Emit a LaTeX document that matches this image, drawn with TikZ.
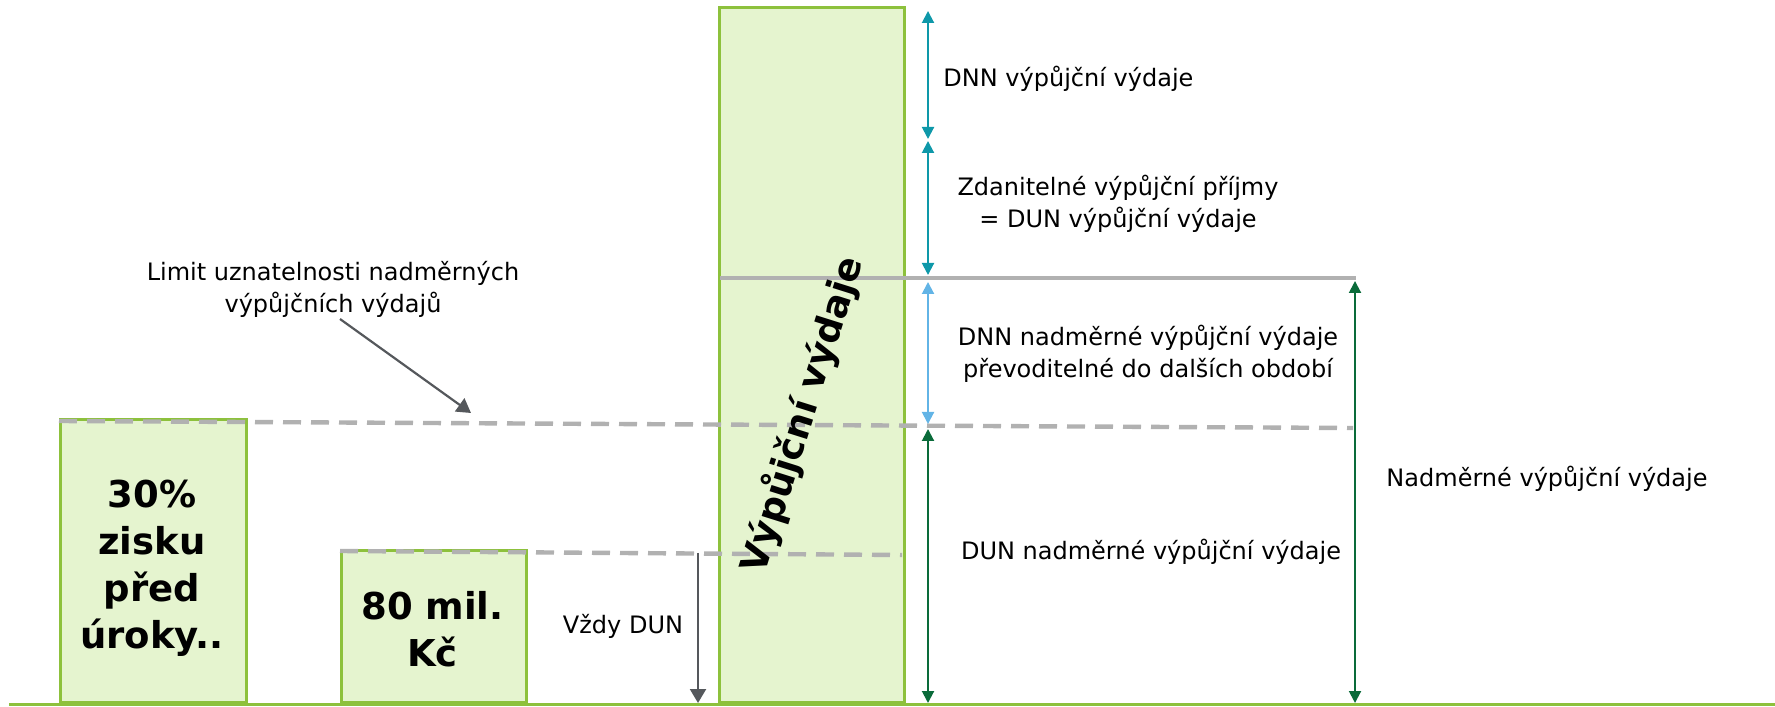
\documentclass[tikz,border=0pt]{standalone}
\usepackage{fontspec}
\setmainfont{DejaVu Sans}
\usetikzlibrary{arrows.meta}

\definecolor{barfill}{HTML}{E5F4CF}
\definecolor{bargreen}{HTML}{8DC13C}
\definecolor{limgray}{HTML}{B1B1B1}
\definecolor{tealarr}{HTML}{0E98A9}
\definecolor{bluearr}{HTML}{62B4E6}
\definecolor{darkarr}{HTML}{0A6B3A}
\definecolor{ptrgray}{HTML}{55585C}

\begin{document}
\begin{tikzpicture}[x=0.5pt,y=0.5pt,
        bar/.style={draw=bargreen,fill=barfill,line width=1.5pt,minimum width=92.5pt,anchor=south west,inner sep=0pt},
        bartext/.style={inner sep=0pt,align=center,font=\fontsize{18.5}{23.5}\selectfont\bfseries},
        lbl/.style={inner sep=0pt,align=center,font=\fontsize{12}{16}\selectfont},
        dim/.style={line width=1pt,{Triangle[width=6pt,length=6pt]}-{Triangle[width=6pt,length=6pt]}},
        ptr/.style={draw=ptrgray,line width=1.1pt,-{Triangle[width=8pt,length=7pt]}},
        limit/.style={draw=limgray,line width=2.2pt,dash pattern=on 9pt off 5pt}]

    \useasboundingbox (0,0) rectangle (1775,706);

    \node[bar,minimum width=93pt,minimum height=141.5pt] (zisk) at (59,2) {};
    \node[bar,minimum height=76pt] (mil) at (340,2) {};
    \node[bar,minimum height=347.5pt] (vyd) at (718,2) {};
    \node[bartext] (zisktxt) at (152,137.5) {30\%\\zisku\\před\\úroky..};
    \node[bartext] (miltxt) at (432.5,76.5) {80 mil.\\Kč};

    \draw[bargreen,line width=1.5pt] (9,2) coordinate (g0) -- (1775,2) coordinate (g1);

    \coordinate (l1a) at (59,285);
    \coordinate (l1b) at (1353,278);
    \coordinate (l2a) at (340,155);
    \coordinate (l2b) at (902,151);
    \coordinate (vz) at (698,153);
    \coordinate (vz0) at (698,3);
    \draw[limit] (l1a) -- (l1b);
    \draw[limit] (l2a) -- (l2b);
    \draw[limgray,line width=2pt] (720,428) coordinate (h0) -- (1356,428) coordinate (h1);

    \node[rotate=72.5,font=\fontsize{18.5}{20}\selectfont\bfseries] (vv) at (802,291) {Výpůjční výdaje};

    \coordinate (a0) at (928,695);
    \coordinate (a1) at (928,567);
    \coordinate (a2) at (928,565);
    \coordinate (a3) at (928,431);
    \coordinate (a4) at (928,424);
    \coordinate (a5) at (928,282);
    \coordinate (a6) at (928,277);
    \coordinate (a7) at (928,3);
    \coordinate (n0) at (1355,425);
    \coordinate (n1) at (1355,3);

    \draw[dim,tealarr] (a0) -- (a1);
    \draw[dim,tealarr] (a2) -- (a3);
    \draw[dim,bluearr] (a4) -- (a5);
    \draw[dim,darkarr] (a6) -- (a7);
    \draw[dim,darkarr] (n0) -- (n1);
    \draw[ptr] (vz) -- (vz0);

    \node[lbl,anchor=west] (dnn) at (943,627) {DNN výpůjční výdaje};
    \node[lbl] (zdan) at (1118,502) {Zdanitelné výpůjční příjmy\\= DUN výpůjční výdaje};
    \node[lbl] (dnnn) at (1148,352) {DNN nadměrné výpůjční výdaje\\převoditelné do dalších období};
    \node[lbl] (dunn) at (1151,154) {DUN nadměrné výpůjční výdaje};
    \node[lbl] (nadm) at (1547,227) {Nadměrné výpůjční výdaje};
    \node[lbl] (vzdy) at (623,80) {Vždy DUN};
    \node[lbl] (lim) at (333,417) {Limit uznatelnosti nadměrných\\výpůjčních výdajů};

    \coordinate (p0) at (340,387);
    \coordinate (p1) at (471,293);
    \draw[ptr] (p0) -- (p1);

\end{tikzpicture}
\end{document}
